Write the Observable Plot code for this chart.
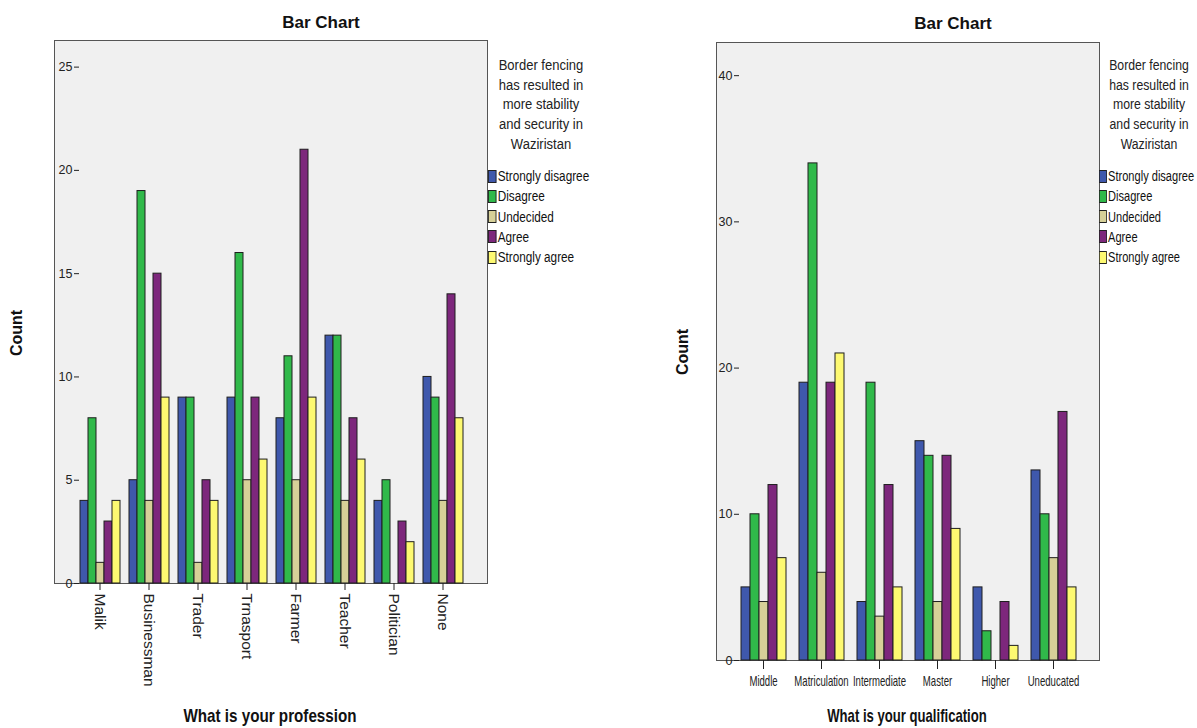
<!DOCTYPE html>
<html>
<head>
<meta charset="utf-8">
<script src="https://cdn.jsdelivr.net/npm/d3@7"></script>
<script src="https://cdn.jsdelivr.net/npm/@observablehq/plot@0.6"></script>
<style>
  html, body { margin: 0; padding: 0; background: #ffffff; }
  #root { position: relative; width: 1197px; height: 728px; overflow: hidden; background: #fff;
          font-family: "Liberation Sans", Arial, sans-serif; color: #111; }
  .abs { position: absolute; }
  .frame { position: absolute; background: #f0f0f0; border: 1.5px solid #555; box-sizing: border-box; }
  .title { position: absolute; font-weight: bold; font-size: 17px;
           transform: translate(-50%, -50%); white-space: nowrap; }
  .xlab { position: absolute; font-weight: bold; font-size: 19px; white-space: nowrap; }
  .ylab { position: absolute; font-weight: bold; font-size: 16px;
          transform: translate(-50%, -50%) rotate(-90deg); white-space: nowrap; }
  .legend-title { position: absolute; text-align: center; font-size: 15.5px; line-height: 19.7px; width: 140px;
                  transform-origin: 50% 0; color: #222; }
  .legend-item { position: absolute; font-size: 14px; white-space: nowrap; display: flex; align-items: center;
                 transform-origin: 0 50%; color: #111; }
  .sw { width: 9.5px; height: 13px; border: 1px solid #222; box-sizing: border-box; margin-right: 2px; }
  svg text { fill: #222; }
</style>
</head>
<body>
<div id="root"></div>
<script>
// ---------- data ----------
const responses = ["Strongly disagree", "Disagree", "Undecided", "Agree", "Strongly agree"];
const responseColors = ["#3f58ac", "#30b94a", "#d6d098", "#7d277c", "#fdf971"];

const professions = ["Malik", "Businessman", "Trader", "Trnasport", "Farmer", "Teacher", "Politician", "None"];
const profStronglyDisagree = [4, 5, 9, 9, 8, 12, 4, 10];
const profDisagree         = [8, 19, 9, 16, 11, 12, 5, 9];
const profUndecided        = [1, 4, 1, 5, 5, 4, 0, 4];
const profAgree            = [3, 15, 5, 9, 21, 8, 3, 14];
const profStronglyAgree    = [4, 9, 4, 6, 9, 6, 2, 8];
const profTicks = [0, 5, 10, 15, 20, 25];

const qualifications = ["Middle", "Matriculation", "Intermediate", "Master", "Higher", "Uneducated"];
const qualStronglyDisagree = [5, 19, 4, 15, 5, 13];
const qualDisagree         = [10, 34, 19, 14, 2, 10];
const qualUndecided        = [4, 6, 3, 4, 0, 7];
const qualAgree            = [12, 19, 12, 14, 4, 17];
const qualStronglyAgree    = [7, 21, 5, 9, 1, 5];
const qualTicks = [0, 10, 20, 30, 40];

const legendLines = ["Border fencing", "has resulted in", "more stability", "and security in", "Waziristan"];

// ---------- helpers ----------
const root = document.getElementById("root");
function add(cls, text, css) {
  const d = document.createElement("div");
  d.className = cls;
  if (text != null) d.textContent = text;
  Object.assign(d.style, css || {});
  root.appendChild(d);
  return d;
}

function chart(o) {
  const table = o.cats.flatMap((c, i) =>
    responses.map((r, j) => ({cat: c, resp: r, value: o.series[j][i]}))
  ).filter(d => d.value > 0);
  return Plot.plot({
    width: o.width, height: o.height,
    marginLeft: o.marginLeft, marginRight: o.marginRight,
    marginTop: o.marginTop, marginBottom: o.marginBottom,
    style: {background: "transparent", fontFamily: "'Liberation Sans', Arial, sans-serif",
            fontSize: "12.5px", color: "#222", overflow: "visible"},
    facet: {data: table, x: "cat"},
    fx: {domain: o.cats, paddingInner: o.pi, paddingOuter: o.po, label: null, axis: "bottom",
         tickSize: o.fxTickSize, tickRotate: o.rotate, tickPadding: o.fxPad},
    x: {domain: responses, axis: null, padding: 0},
    y: {domain: [0, o.yMax], ticks: o.yTicks, tickSize: 5, tickPadding: 2, label: null},
    color: {domain: responses, range: responseColors},
    marks: [
      Plot.barY(table, {x: "resp", y: "value", fill: "resp", stroke: "#1e1e1e", strokeWidth: 1})
    ]
  });
}

function place(svg, left, top, id) {
  const wrap = document.createElement("div");
  wrap.className = "abs";
  wrap.id = id;
  wrap.style.left = left + "px";
  wrap.style.top = top + "px";
  wrap.appendChild(svg);
  root.appendChild(wrap);
  return svg;
}

function styleCatLabels(svg, cats, size, squeeze) {
  Array.from(svg.querySelectorAll("text"))
    .filter(t => cats.includes(t.textContent))
    .forEach(t => {
      t.style.fontSize = size;
      if (squeeze) {
        const len = t.getComputedTextLength();
        t.setAttribute("textLength", (len * squeeze).toFixed(1));
        t.setAttribute("lengthAdjust", "spacingAndGlyphs");
      }
    });
}

function legend(cx, left, squeeze) {
  add("legend-title", null, {left: cx + "px", top: "55px",
      transform: `translateX(-50%) scaleX(${squeeze})`}).innerHTML = legendLines.join("<br>");
  responses.forEach((r, i) => {
    const it = add("legend-item", null, {left: left + "px", top: (168 + i * 20.3) + "px",
        transform: `scaleX(${squeeze})`});
    const sw = document.createElement("div");
    sw.className = "sw";
    sw.style.background = responseColors[i];
    it.appendChild(sw);
    const t = document.createElement("span");
    t.textContent = r;
    it.appendChild(t);
  });
}

// ---------- left chart ----------
add("frame", null, {left: "54px", top: "40px", width: "434px", height: "544px"});
const leftSvg = place(chart({
  cats: professions,
  series: [profStronglyDisagree, profDisagree, profUndecided, profAgree, profStronglyAgree],
  yMax: 26.24, yTicks: profTicks,
  width: 490, height: 728, marginLeft: 55, marginRight: 3, marginTop: 41, marginBottom: 145,
  pi: 0.16, po: 0.435, rotate: 90, fxTickSize: 7, fxPad: 3
}), 0, 0, "left");
styleCatLabels(leftSvg, professions, "15.5px", 0);
add("title", "Bar Chart", {left: "321px", top: "23px"});
add("ylab", "Count", {left: "17px", top: "333px"});
add("xlab", "What is your profession",
    {left: "270px", top: "716px", transform: "translate(-50%, -50%) scaleX(0.8)"});
legend(541, 488, 0.84);

// ---------- right chart ----------
add("frame", null, {left: "716px", top: "42px", width: "384px", height: "619px"});
const rightSvg = place(chart({
  cats: qualifications,
  series: [qualStronglyDisagree, qualDisagree, qualUndecided, qualAgree, qualStronglyAgree],
  yMax: 42.2, yTicks: qualTicks,
  width: 442, height: 728, marginLeft: 57, marginRight: 3, marginTop: 43, marginBottom: 68,
  pi: 0.18, po: 0.34, rotate: 0, fxTickSize: 9, fxPad: 6
}), 660, 0, "right");
styleCatLabels(rightSvg, qualifications, "14.5px", 0.66);
add("title", "Bar Chart", {left: "953px", top: "24px"});
add("ylab", "Count", {left: "683px", top: "352px"});
add("xlab", "What is your qualification",
    {left: "907px", top: "716px", transform: "translate(-50%, -50%) scaleX(0.69)"});
legend(1149, 1099, 0.79);
</script>
</body>
</html>
